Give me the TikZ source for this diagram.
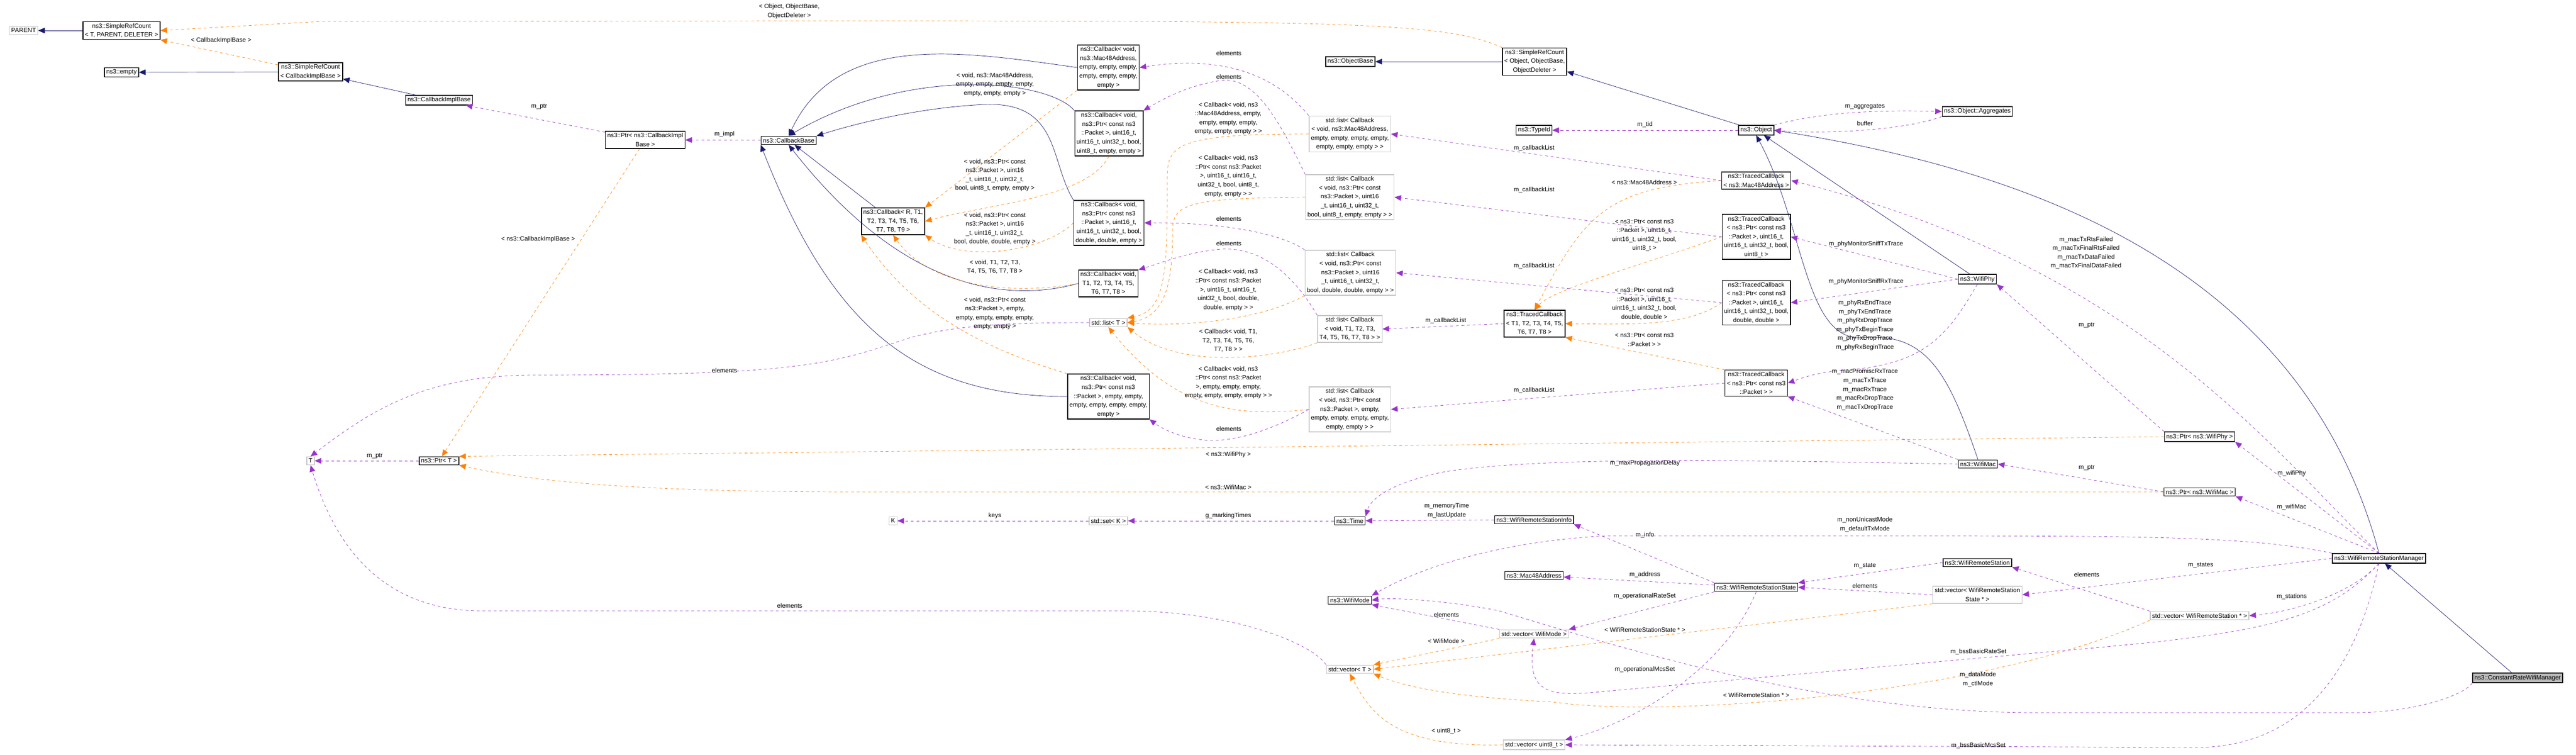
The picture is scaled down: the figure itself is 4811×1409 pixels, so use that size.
\documentclass[tikz,border=0pt]{standalone}
\usepackage{fontspec}
\setsansfont{Liberation Sans}
\usetikzlibrary{arrows.meta}

\tikzset{
  box/.style={draw=black, thick, fill=white, align=center, inner sep=2pt, font=\sffamily\fontsize{6.6}{9.4}\selectfont},
  gbox/.style={box, draw=gray!45},
  mainbox/.style={box, fill=gray!55},
  lbl/.style={align=center, inner sep=0pt, font=\sffamily\fontsize{6.6}{9.4}\selectfont},
  inh/.style={draw={rgb,255:red,25;green,25;blue,112}, -{Triangle[length=7pt,width=6pt]}},
  use/.style={draw={rgb,255:red,153;green,50;blue,204}, dashed, -{Triangle[length=7pt,width=6pt]}},
  tpl/.style={draw=orange, dashed, -{Triangle[length=7pt,width=6pt]}},
}

\begin{document}
\begin{tikzpicture}[x=0.02cm, y=-0.02cm]
    \useasboundingbox[fill=white] (0,0) rectangle (4811,1409);

    % Ref counting and callback implementation
    \node[gbox] (parent) at (44,57) {PARENT};
    \node[box] (srct) at (227,57) {ns3::SimpleRefCount\\< T, PARENT, DELETER >};
    \node[box] (empty) at (227,135) {ns3::empty};
    \node[box] (srccib) at (580,134) {ns3::SimpleRefCount\\< CallbackImplBase >};
    \node[box] (cib) at (820,187) {ns3::CallbackImplBase};
    \node[box] (ptrcib) at (1205,261) {ns3::Ptr< ns3::CallbackImpl\\Base >};
    \node[box] (cbbase) at (1473,262) {ns3::CallbackBase};
    \node[gbox] (t) at (580,860) {T};
    \node[box] (ptrt) at (820,860) {ns3::Ptr< T >};
    \node[gbox] (k) at (1668,972) {K};
    \node[gbox] (setk) at (2070,972) {std::set< K >};

    % Callbacks
    \node[box] (cbmac) at (2070,126) {ns3::Callback< void,\\ns3::Mac48Address,\\empty, empty, empty,\\empty, empty, empty,\\empty >};
    \node[box] (cbuint) at (2071,249) {ns3::Callback< void,\\ns3::Ptr< const ns3\\::Packet >, uint16\_t,\\uint16\_t, uint32\_t, bool,\\uint8\_t, empty, empty >};
    \node[box] (cbr) at (1668,413) {ns3::Callback< R, T1,\\T2, T3, T4, T5, T6,\\T7, T8, T9 >};
    \node[box] (cbdbl) at (2071,416) {ns3::Callback< void,\\ns3::Ptr< const ns3\\::Packet >, uint16\_t,\\uint16\_t, uint32\_t, bool,\\double, double, empty >};
    \node[box] (cbtt) at (2070,529) {ns3::Callback< void,\\T1, T2, T3, T4, T5,\\T6, T7, T8 >};
    \node[gbox] (listt) at (2070,602) {std::list< T >};
    \node[box] (cbpkt) at (2070,740) {ns3::Callback< void,\\ns3::Ptr< const ns3\\::Packet >, empty, empty,\\empty, empty, empty, empty,\\empty >};

    % Callback lists
    \node[gbox] (lmac) at (2521,250) {std::list< Callback\\< void, ns3::Mac48Address,\\empty, empty, empty, empty,\\empty, empty, empty > >};
    \node[gbox] (luint) at (2521,368) {std::list< Callback\\< void, ns3::Ptr< const\\ns3::Packet >, uint16\\\_t, uint16\_t, uint32\_t,\\bool, uint8\_t, empty, empty > >};
    \node[gbox] (ldbl) at (2522,509) {std::list< Callback\\< void, ns3::Ptr< const\\ns3::Packet >, uint16\\\_t, uint16\_t, uint32\_t,\\bool, double, double, empty > >};
    \node[gbox] (ltt) at (2521,614) {std::list< Callback\\< void, T1, T2, T3,\\T4, T5, T6, T7, T8 > >};
    \node[gbox] (lpkt) at (2521,764) {std::list< Callback\\< void, ns3::Ptr< const\\ns3::Packet >, empty,\\empty, empty, empty, empty,\\empty, empty > >};

    % Object side
    \node[box] (objbase) at (2522,115) {ns3::ObjectBase};
    \node[box] (srcobj) at (2866,115) {ns3::SimpleRefCount\\< Object, ObjectBase,\\ObjectDeleter >};
    \node[box] (typeid) at (2865,243) {ns3::TypeId};
    \node[box] (object) at (3280,243) {ns3::Object};
    \node[box] (aggr) at (3693,208) {ns3::Object::Aggregates};

    % Traced callbacks
    \node[box] (tcmac) at (3280,337) {ns3::TracedCallback\\< ns3::Mac48Address >};
    \node[box] (tcuint) at (3280,442) {ns3::TracedCallback\\< ns3::Ptr< const ns3\\::Packet >, uint16\_t,\\uint16\_t, uint32\_t, bool,\\uint8\_t >};
    \node[box] (tcdbl) at (3280,565) {ns3::TracedCallback\\< ns3::Ptr< const ns3\\::Packet >, uint16\_t,\\uint16\_t, uint32\_t, bool,\\double, double >};
    \node[box] (tct) at (2866,604) {ns3::TracedCallback\\< T1, T2, T3, T4, T5,\\T6, T7, T8 >};
    \node[box] (tcpkt) at (3280,715) {ns3::TracedCallback\\< ns3::Ptr< const ns3\\::Packet > >};

    % Wifi classes
    \node[box] (phy) at (3693,521) {ns3::WifiPhy};
    \node[box] (mac) at (3694,866) {ns3::WifiMac};
    \node[box] (ptrphy) at (4108,815) {ns3::Ptr< ns3::WifiPhy >};
    \node[box] (ptrmac) at (4108,918) {ns3::Ptr< ns3::WifiMac >};
    \node[box] (time) at (2521,972) {ns3::Time};
    \node[box] (info) at (2865,970) {ns3::WifiRemoteStationInfo};
    \node[box] (mac48) at (2865,1074) {ns3::Mac48Address};
    \node[box] (state) at (3280,1096) {ns3::WifiRemoteStationState};
    \node[box] (mode) at (2521,1120) {ns3::WifiMode};
    \node[gbox] (vmode) at (2865,1183) {std::vector< WifiMode >};
    \node[gbox] (vt) at (2521,1249) {std::vector< T >};
    \node[gbox] (vuint) at (2865,1390) {std::vector< uint8\_t >};
    \node[box] (station) at (3693,1050) {ns3::WifiRemoteStation};
    \node[gbox] (vstate) at (3693,1110) {std::vector< WifiRemoteStation\\State * >};
    \node[gbox] (vstation) at (4108,1149) {std::vector< WifiRemoteStation * >};
    \node[box] (manager) at (4443,1042) {ns3::WifiRemoteStationManager};
    \node[mainbox] (crwm) at (4702,1265) {ns3::ConstantRateWifiManager};

    % Inheritance
    \draw[inh] (srct) -- (parent);
    \draw[inh] (srccib) -- (empty);
    \draw[inh] (cib) -- (srccib);
    \draw[inh] (cbmac.west) to[out=172,in=65] (cbbase.north);
    \draw[inh] (cbuint.north west) .. controls (1960,150) and (1700,120) .. (cbbase.north);
    \draw[inh] (cbdbl.north west) .. controls (1960,300) and (1980,190) .. (1840,195) .. controls (1720,200) and (1600,230) .. (cbbase.north east);
    \draw[inh] (cbr) -- (cbbase);
    \draw[inh] (cbtt.west) .. controls (1900,560) and (1700,560) .. (cbbase.south);
    \draw[inh] (cbpkt.west) .. controls (1700,740) and (1550,600) .. (cbbase.south west);
    \draw[inh] (srcobj) -- (objbase);
    \draw[inh] (object) -- (srcobj);
    \draw[inh] (phy) -- (object);
    \draw[inh] (mac.north) .. controls (3640,700) and (3600,620) .. (3480,630) .. controls (3370,640) and (3370,420) .. (object.south);
    \draw[inh] (manager.north) .. controls (4300,500) and (3800,320) .. (object.east);
    \draw[inh] (crwm) -- (manager);

    % Template instances
    \draw[tpl] (srccib) -- (srct.south east) node[lbl, at={(413,76)}] {< CallbackImplBase >};
    \draw[tpl] (srcobj.north west) .. controls (2700,40) and (2500,39) .. (1500,39) -- (600,40) -- (srct.east) node[lbl, at={(1474,21)}] {< Object, ObjectBase,\\ObjectDeleter >};
    \draw[tpl] (ptrcib) -- (ptrt) node[lbl, at={(1005,446)}] {< ns3::CallbackImplBase >};
    \draw[tpl] (cbmac.south west) -- (cbr.north east) node[lbl, at={(1858,158)}] {< void, ns3::Mac48Address,\\empty, empty, empty, empty,\\empty, empty, empty >};
    \draw[tpl] (cbuint.south) .. controls (2030,370) and (1850,380) .. (cbr.east) node[lbl, at={(1858,327)}] {< void, ns3::Ptr< const\\ns3::Packet >, uint16\\\_t, uint16\_t, uint32\_t,\\bool, uint8\_t, empty, empty >};
    \draw[tpl] (cbdbl.west) .. controls (1950,470) and (1800,490) .. (cbr.south east) node[lbl, at={(1858,427)}] {< void, ns3::Ptr< const\\ns3::Packet >, uint16\\\_t, uint16\_t, uint32\_t,\\bool, double, double, empty >};
    \draw[tpl] (cbtt.west) .. controls (1900,550) and (1740,540) .. (cbr.south) node[lbl, at={(1858,498)}] {< void, T1, T2, T3,\\T4, T5, T6, T7, T8 >};
    \draw[tpl] (cbpkt.north west) .. controls (1800,640) and (1690,560) .. (cbr.south west) node[lbl, at={(1858,585)}] {< void, ns3::Ptr< const\\ns3::Packet >, empty,\\empty, empty, empty, empty,\\empty, empty >};
    \draw[tpl] (lmac.west) .. controls (2200,250) and (2180,270) .. (2180,330) .. controls (2180,500) and (2180,580) .. (listt.north east) node[lbl, at={(2294,221)}] {< Callback< void, ns3\\::Mac48Address, empty,\\empty, empty, empty,\\empty, empty, empty > >};
    \draw[tpl] (luint.west) .. controls (2220,370) and (2190,380) .. (2190,430) .. controls (2190,520) and (2180,590) .. (listt.east) node[lbl, at={(2294,329)}] {< Callback< void, ns3\\::Ptr< const ns3::Packet\\>, uint16\_t, uint16\_t,\\uint32\_t, bool, uint8\_t,\\empty, empty > >};
    \draw[tpl] (ldbl.south west) .. controls (2350,600) and (2200,610) .. (listt.east) node[lbl, at={(2294,541)}] {< Callback< void, ns3\\::Ptr< const ns3::Packet\\>, uint16\_t, uint16\_t,\\uint32\_t, bool, double,\\double, empty > >};
    \draw[tpl] (ltt.south west) .. controls (2380,670) and (2200,690) .. (listt.south east) node[lbl, at={(2294,636)}] {< Callback< void, T1,\\T2, T3, T4, T5, T6,\\T7, T8 > >};
    \draw[tpl] (lpkt.west) .. controls (2300,780) and (2190,760) .. (listt.south) node[lbl, at={(2294,714)}] {< Callback< void, ns3\\::Ptr< const ns3::Packet\\>, empty, empty, empty,\\empty, empty, empty, empty > >};
    \draw[tpl] (tcmac.west) .. controls (3000,350) and (2960,400) .. (tct.north) node[lbl, at={(3071,340)}] {< ns3::Mac48Address >};
    \draw[tpl] (tcuint.west) .. controls (3050,500) and (2900,540) .. (tct.north) node[lbl, at={(3071,439)}] {< ns3::Ptr< const ns3\\::Packet >, uint16\_t,\\uint16\_t, uint32\_t, bool,\\uint8\_t >};
    \draw[tpl] (tcdbl.west) .. controls (3150,610) and (3050,605) .. (tct.east) node[lbl, at={(3071,567)}] {< ns3::Ptr< const ns3\\::Packet >, uint16\_t,\\uint16\_t, uint32\_t, bool,\\double, double >};
    \draw[tpl] (tcpkt.north west) -- (tct.south east) node[lbl, at={(3071,634)}] {< ns3::Ptr< const ns3\\::Packet > >};
    \draw[tpl] (ptrphy.west) -- (ptrt.north east) node[lbl, at={(2294,848)}] {< ns3::WifiPhy >};
    \draw[tpl] (ptrmac.west) -- (1600,918) .. controls (1200,918) and (1000,900) .. (ptrt.south east) node[lbl, at={(2294,909)}] {< ns3::WifiMac >};
    \draw[tpl] (vmode.south west) -- (vt.north east) node[lbl, at={(2701,1196)}] {< WifiMode >};
    \draw[tpl] (vstate.south west) -- (vt.east) node[lbl, at={(3072,1175)}] {< WifiRemoteStationState * >};
    \draw[tpl] (vstation.south west) .. controls (3700,1300) and (3100,1340) .. (2900,1310) .. controls (2700,1300) and (2620,1280) .. (vt.south east) node[lbl, at={(3280,1297)}] {< WifiRemoteStation * >};
    \draw[tpl] (vuint.west) .. controls (2600,1395) and (2560,1330) .. (vt.south) node[lbl, at={(2701,1364)}] {< uint8\_t >};

    % Usage
    \draw[use] (ptrcib) -- (cib) node[lbl, at={(1007,199)}] {m\_ptr};
    \draw[use] (cbbase) -- (ptrcib) node[lbl, at={(1353,251)}] {m\_impl};
    \draw[use] (ptrt) -- (t) node[lbl, at={(700,851)}] {m\_ptr};
    \draw[use] (listt.west) .. controls (1850,602) and (1780,610) .. (1700,630) .. controls (1550,680) and (1500,700) .. (1000,700) .. controls (800,700) and (700,760) .. (t.north) node[lbl, at={(1353,691)}] {elements};
    \draw[use] (vt.north west) .. controls (2450,1200) and (2300,1140) .. (2100,1140) -- (900,1140) .. controls (700,1140) and (620,1000) .. (t.south) node[lbl, at={(1475,1130)}] {elements};
    \draw[use] (lmac.north west) .. controls (2390,150) and (2300,100) .. (cbmac.east) node[lbl, at={(2295,99)}] {elements};
    \draw[use] (luint.north west) .. controls (2400,250) and (2350,140) .. (2280,150) .. controls (2220,160) and (2180,180) .. (cbuint.north east) node[lbl, at={(2295,143)}] {elements};
    \draw[use] (ldbl.north west) .. controls (2400,440) and (2300,415) .. (cbdbl.east) node[lbl, at={(2295,408)}] {elements};
    \draw[use] (ltt.north west) .. controls (2420,520) and (2360,460) .. (2280,465) .. controls (2220,470) and (2170,490) .. (cbtt.north east) node[lbl, at={(2295,454)}] {elements};
    \draw[use] (lpkt.west) .. controls (2380,800) and (2300,830) .. (2240,820) .. controls (2200,815) and (2170,800) .. (cbpkt.south east) node[lbl, at={(2295,800)}] {elements};
    \draw[use] (tcmac.west) -- (lmac.east) node[lbl, at={(2865,276)}] {m\_callbackList};
    \draw[use] (tcuint.west) -- (luint.east) node[lbl, at={(2865,354)}] {m\_callbackList};
    \draw[use] (tcdbl.west) -- (ldbl.east) node[lbl, at={(2865,496)}] {m\_callbackList};
    \draw[use] (tct.west) -- (ltt.east) node[lbl, at={(2700,598)}] {m\_callbackList};
    \draw[use] (tcpkt.west) -- (lpkt.east) node[lbl, at={(2865,728)}] {m\_callbackList};
    \draw[use] (object) -- (typeid) node[lbl, at={(3072,232)}] {m\_tid};
    \draw[use] (object.north east) .. controls (3400,210) and (3500,205) .. (aggr.west) node[lbl, at={(3483,199)}] {m\_aggregates};
    \draw[use] (aggr.south west) .. controls (3550,245) and (3400,250) .. (object.east) node[lbl, at={(3483,230)}] {buffer};
    \draw[use] (phy.west) -- (tcuint.east) node[lbl, at={(3485,456)}] {m\_phyMonitorSniffTxTrace};
    \draw[use] (phy.west) -- (tcdbl.east) node[lbl, at={(3485,525)}] {m\_phyMonitorSniffRxTrace};
    \draw[use] (phy.south) .. controls (3640,620) and (3600,680) .. (3450,690) .. controls (3400,695) and (3380,700) .. (tcpkt.east) node[lbl, at={(3483,607)}] {m\_phyRxEndTrace\\m\_phyTxEndTrace\\m\_phyRxDropTrace\\m\_phyTxBeginTrace\\m\_phyTxDropTrace\\m\_phyRxBeginTrace};
    \draw[use] (mac.north west) -- (tcpkt.south east) node[lbl, at={(3483,727)}] {m\_macPromiscRxTrace\\m\_macTxTrace\\m\_macRxTrace\\m\_macRxDropTrace\\m\_macTxDropTrace};
    \draw[use] (manager.north) .. controls (4250,850) and (4000,500) .. (tcmac.east) node[lbl, at={(3896,472)}] {m\_macTxRtsFailed\\m\_macTxFinalRtsFailed\\m\_macTxDataFailed\\m\_macTxFinalDataFailed};
    \draw[use] (ptrphy.north west) -- (phy.south east) node[lbl, at={(3897,607)}] {m\_ptr};
    \draw[use] (ptrmac.west) -- (mac.east) node[lbl, at={(3897,873)}] {m\_ptr};
    \draw[use] (manager.north) -- (ptrphy.south east) node[lbl, at={(4280,883)}] {m\_wifiPhy};
    \draw[use] (manager.north) -- (ptrmac.south east) node[lbl, at={(4280,946)}] {m\_wifiMac};
    \draw[use] (mac.west) .. controls (3300,860) and (2900,850) .. (2700,880) .. controls (2600,900) and (2560,930) .. (time.north east) node[lbl, at={(3072,864)}] {m\_maxPropagationDelay};
    \draw[use] (setk) -- (k) node[lbl, at={(1858,962)}] {keys};
    \draw[use] (time) -- (setk) node[lbl, at={(2294,962)}] {g\_markingTimes};
    \draw[use] (info) -- (time) node[lbl, at={(2702,953)}] {m\_memoryTime\\m\_lastUpdate};
    \draw[use] (state.north west) -- (info.south east) node[lbl, at={(3072,998)}] {m\_info};
    \draw[use] (state) -- (mac48) node[lbl, at={(3072,1072)}] {m\_address};
    \draw[use] (state.south west) -- (vmode.north east) node[lbl, at={(3072,1112)}] {m\_operationalRateSet};
    \draw[use] (state.south) .. controls (3220,1250) and (3050,1350) .. (vuint.north east) node[lbl, at={(3072,1249)}] {m\_operationalMcsSet};
    \draw[use] (manager.north west) .. controls (4200,1000) and (4000,1000) .. (3500,1000) -- (3000,1000) .. controls (2800,1010) and (2650,1060) .. (mode.north east) node[lbl, at={(3483,979)}] {m\_nonUnicastMode\\m\_defaultTxMode};
    \draw[use] (station.west) -- (state.north east) node[lbl, at={(3483,1056)}] {m\_state};
    \draw[use] (vstate.west) -- (state.east) node[lbl, at={(3483,1093)}] {elements};
    \draw[use] (vmode.north west) -- (mode.south east) node[lbl, at={(2701,1147)}] {elements};
    \draw[use] (manager.west) -- (vstate.east) node[lbl, at={(4110,1055)}] {m\_states};
    \draw[use] (manager.south) .. controls (4400,1100) and (4300,1140) .. (vstation.east) node[lbl, at={(4280,1113)}] {m\_stations};
    \draw[use] (vstation.north west) -- (station.south east) node[lbl, at={(3897,1072)}] {elements};
    \draw[use] (manager.south) .. controls (4350,1150) and (4250,1180) .. (3900,1210) -- (3000,1290) .. controls (2900,1300) and (2850,1300) .. (vmode.south) node[lbl, at={(3695,1216)}] {m\_bssBasicRateSet};
    \draw[use] (crwm.south west) .. controls (4600,1300) and (4500,1330) .. (4400,1330) -- (3800,1330) .. controls (3400,1330) and (3000,1200) .. (2800,1140) .. controls (2700,1120) and (2600,1115) .. (mode.east) node[lbl, at={(3694,1268)}] {m\_dataMode\\m\_ctlMode};
    \draw[use] (manager.south) .. controls (4400,1250) and (4300,1395) .. (4100,1395) -- (vuint.east) node[lbl, at={(3695,1391)}] {m\_bssBasicMcsSet};

\end{tikzpicture}
\end{document}
